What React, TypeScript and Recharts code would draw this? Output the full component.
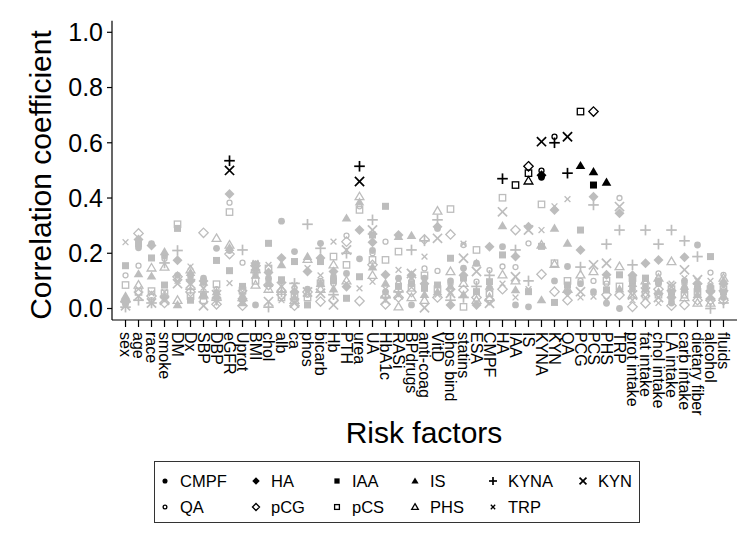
import React from 'react';
import { ScatterChart, Scatter, XAxis, YAxis } from 'recharts';

const categories = [
  'sex', 'age', 'race', 'smoke', 'DM', 'Dx', 'SBP', 'DBP', 'eGFR', 'Uprot', 'BMI', 'chol',
  'alb', 'ca', 'phos', 'bicarb', 'Hb', 'PTH', 'urea', 'UA', 'HbA1c', 'RASi', 'BPdrugs',
  'anti-coag', 'VitD', 'phos bind', 'statins', 'ESA', 'CMPF', 'HA', 'IAA', 'IS', 'KYNA',
  'KYN', 'QA', 'PCG', 'PCS', 'PHS', 'TRP', 'prot intake', 'fat intake', 'chol intake',
  'LA intake', 'carb intake', 'dietary fiber', 'alcohol', 'fluids',
];

const yTicks = [0, 0.2, 0.4, 0.6, 0.8, 1.0];

const CMPF = [0.015, 0.22, 0.235, 0.19, 0.12, 0.12, 0.11, 0.218, 0.21, 0.04, 0.013, 0.11, 0.316, 0.206, 0.07, 0.236, 0.115, 0.127, 0.18, 0.21, 0.06, 0.11, 0.013, 0.11, 0.29, 0.1, 0.146, 0.164, null, 0.224, 0.013, 0.006, 0.475, 0.1, 0.152, 0.09, 0.061, 0.019, 0.0, 0.07, 0.08, 0.09, 0.02, 0.1, 0.23, 0.08, 0.04];
const HA = [0.03, 0.25, 0.228, 0.04, 0.175, 0.1, 0.1, 0.04, 0.415, 0.03, 0.14, 0.13, 0.183, 0.06, 0.134, 0.183, 0.134, 0.079, 0.284, 0.24, 0.122, 0.266, 0.12, 0.09, 0.296, 0.013, 0.12, 0.013, 0.224, null, 0.188, 0.296, 0.482, 0.357, 0.06, 0.212, 0.405, 0.122, 0.345, 0.12, 0.164, 0.176, 0.04, 0.186, 0.09, 0.061, 0.09];
const IAA = [0.155, 0.235, 0.183, 0.085, 0.29, 0.03, 0.045, 0.174, 0.137, 0.08, 0.16, 0.236, 0.104, 0.17, 0.013, 0.17, 0.1, 0.037, 0.115, 0.266, 0.37, 0.08, 0.09, 0.073, 0.085, 0.182, 0.11, 0.061, 0.097, 0.194, null, 0.061, 0.225, 0.022, 0.085, 0.284, 0.447, 0.067, 0.122, 0.1, 0.11, 0.1, 0.06, 0.067, 0.07, 0.188, 0.06];
const IS = [0.045, 0.125, 0.117, 0.205, 0.013, 0.13, 0.095, 0.06, 0.22, 0.02, 0.12, 0.09, 0.158, 0.04, 0.188, 0.09, 0.07, 0.327, 0.385, 0.15, 0.091, 0.26, 0.264, 0.05, 0.06, 0.08, 0.05, 0.164, 0.08, 0.299, 0.067, null, 0.031, 0.29, 0.236, 0.517, 0.495, 0.457, 0.07, 0.09, 0.07, 0.06, 0.05, 0.08, 0.05, 0.04, 0.1];
const KYNA = [0.005, 0.03, 0.02, 0.165, 0.21, 0.07, 0.06, 0.03, 0.535, 0.212, 0.13, 0.005, 0.06, 0.091, 0.305, 0.218, 0.05, 0.2, 0.515, 0.321, 0.04, 0.06, 0.212, 0.245, 0.321, 0.03, 0.04, 0.08, 0.12, 0.47, 0.212, 0.1, null, 0.6, 0.49, 0.15, 0.375, 0.233, 0.284, 0.158, 0.284, 0.233, 0.284, 0.245, 0.188, 0.0, 0.02];
const KYN = [0.01, 0.045, 0.02, 0.03, 0.09, 0.09, 0.01, 0.05, 0.5, 0.05, 0.15, 0.025, 0.08, 0.02, 0.06, 0.055, 0.013, 0.212, 0.46, 0.284, 0.03, 0.05, 0.127, 0.003, 0.254, 0.055, 0.182, 0.134, 0.019, 0.35, 0.115, 0.284, 0.604, null, 0.622, 0.061, 0.158, 0.164, 0.369, 0.049, 0.06, 0.04, 0.079, 0.14, 0.104, 0.05, 0.05];
const QA = [0.12, 0.155, 0.03, 0.18, 0.105, 0.11, 0.085, 0.07, 0.383, 0.166, 0.125, 0.1, 0.1, 0.075, 0.05, 0.1, 0.09, 0.264, 0.37, 0.2, 0.242, 0.09, 0.1, 0.145, 0.136, 0.09, 0.23, 0.097, 0.139, 0.152, 0.15, 0.236, 0.499, 0.622, null, 0.1, 0.1, 0.09, 0.4, 0.08, 0.09, 0.127, 0.03, 0.09, 0.08, 0.13, 0.122];
const pCG = [0.025, 0.272, 0.045, 0.02, 0.115, 0.06, 0.274, 0.015, 0.197, 0.01, 0.155, 0.085, 0.05, 0.01, 0.06, 0.025, 0.03, 0.242, 0.027, 0.158, 0.015, 0.04, 0.06, 0.25, 0.04, 0.268, 0.067, 0.04, 0.03, 0.07, 0.284, 0.515, 0.124, 0.061, 0.03, null, 0.713, 0.05, 0.049, 0.006, 0.019, 0.07, 0.01, 0.013, 0.03, 0.03, 0.03];
const pCS = [0.085, 0.06, 0.063, 0.055, 0.305, 0.045, 0.03, 0.088, 0.349, 0.065, 0.1, 0.145, 0.04, 0.05, 0.04, 0.091, 0.188, 0.158, 0.357, 0.176, 0.176, 0.206, 0.075, 0.12, 0.07, 0.36, 0.006, 0.212, 0.055, 0.401, 0.447, 0.49, 0.377, 0.164, 0.1, 0.713, null, 0.1, 0.08, 0.11, 0.05, 0.05, 0.07, 0.05, 0.06, 0.07, 0.07];
const PHS = [0.035, 0.085, 0.147, 0.15, 0.03, 0.14, 0.05, 0.254, 0.23, 0.04, 0.085, 0.07, 0.07, 0.03, 0.178, 0.07, 0.158, 0.1, 0.405, 0.12, 0.05, 0.006, 0.04, 0.03, 0.353, 0.134, 0.091, 0.03, 0.04, 0.122, 0.1, 0.462, 0.23, 0.16, 0.07, 0.122, 0.134, null, 0.152, 0.05, 0.1, 0.11, 0.17, 0.04, 0.02, 0.02, 0.11];
const TRP = [0.24, 0.07, 0.055, 0.06, 0.1, 0.152, 0.075, 0.02, 0.092, 0.06, 0.165, 0.158, 0.03, 0.085, 0.146, 0.12, 0.242, 0.091, 0.073, 0.097, 0.07, 0.14, 0.11, 0.188, 0.05, 0.06, 0.235, 0.02, 0.07, 0.09, 0.04, 0.07, 0.284, 0.37, 0.396, 0.04, 0.043, 0.03, null, 0.03, 0.04, 0.02, 0.09, 0.11, 0.1, 0.1, 0.08];

const HIGHLIGHT = 0.43;
const GREY = '#bdbdbd';
const FONT = '"Liberation Sans", Arial, Helvetica, sans-serif';

type Sym = 'circle' | 'diamond' | 'square' | 'triangle' | 'plus' | 'bigx' | 'ocircle' | 'odiamond' | 'osquare' | 'otriangle' | 'smallx';

const series: { name: string; values: (number | null)[]; sym: Sym }[] = [
  { name: 'CMPF', values: CMPF, sym: 'circle' },
  { name: 'HA', values: HA, sym: 'diamond' },
  { name: 'IAA', values: IAA, sym: 'square' },
  { name: 'IS', values: IS, sym: 'triangle' },
  { name: 'KYNA', values: KYNA, sym: 'plus' },
  { name: 'KYN', values: KYN, sym: 'bigx' },
  { name: 'QA', values: QA, sym: 'ocircle' },
  { name: 'pCG', values: pCG, sym: 'odiamond' },
  { name: 'pCS', values: pCS, sym: 'osquare' },
  { name: 'PHS', values: PHS, sym: 'otriangle' },
  { name: 'TRP', values: TRP, sym: 'smallx' },
];

function Marker({ sym, cx, cy, color, s = 1 }: { sym: Sym; cx: number; cy: number; color: string; s?: number }) {
  const sw = 1.3;
  switch (sym) {
    case 'circle':
      return <circle cx={cx} cy={cy} r={3.4 * s} fill={color} />;
    case 'diamond': {
      const h = 5 * s;
      return <polygon points={`${cx},${cy - h} ${cx + h},${cy} ${cx},${cy + h} ${cx - h},${cy}`} fill={color} />;
    }
    case 'square': {
      const h = 3.5 * s;
      return <rect x={cx - h} y={cy - h} width={2 * h} height={2 * h} fill={color} />;
    }
    case 'triangle': {
      const h = 4.8 * s;
      return <polygon points={`${cx},${cy - h} ${cx + h},${cy + h * 0.7} ${cx - h},${cy + h * 0.7}`} fill={color} />;
    }
    case 'plus': {
      const h = 5.3 * s;
      return (
        <g stroke={color} strokeWidth={1.7}>
          <line x1={cx - h} y1={cy} x2={cx + h} y2={cy} />
          <line x1={cx} y1={cy - h} x2={cx} y2={cy + h} />
        </g>
      );
    }
    case 'bigx': {
      const h = 4.6 * s;
      return (
        <g stroke={color} strokeWidth={1.7}>
          <line x1={cx - h} y1={cy - h} x2={cx + h} y2={cy + h} />
          <line x1={cx - h} y1={cy + h} x2={cx + h} y2={cy - h} />
        </g>
      );
    }
    case 'ocircle':
      return <circle cx={cx} cy={cy} r={2.5 * s} fill="none" stroke={color} strokeWidth={sw} />;
    case 'odiamond': {
      const h = 4.7 * s;
      return <polygon points={`${cx},${cy - h} ${cx + h},${cy} ${cx},${cy + h} ${cx - h},${cy}`} fill="none" stroke={color} strokeWidth={sw} />;
    }
    case 'osquare': {
      const h = 3.2 * s;
      return <rect x={cx - h} y={cy - h} width={2 * h} height={2 * h} fill="none" stroke={color} strokeWidth={sw} />;
    }
    case 'otriangle': {
      const h = 4.4 * s;
      return <polygon points={`${cx},${cy - h} ${cx + h},${cy + h * 0.7} ${cx - h},${cy + h * 0.7}`} fill="none" stroke={color} strokeWidth={sw} />;
    }
    case 'smallx': {
      const h = 2.9 * s;
      return (
        <g stroke={color} strokeWidth={1.3}>
          <line x1={cx - h} y1={cy - h} x2={cx + h} y2={cy + h} />
          <line x1={cx - h} y1={cy + h} x2={cx + h} y2={cy - h} />
        </g>
      );
    }
  }
  return null;
}

const toPoints = (values: (number | null)[], hi: boolean) =>
  values
    .map((v, i) => (v == null ? null : { x: i, y: v }))
    .filter((p): p is { x: number; y: number } => p != null && (p.y >= HIGHLIGHT) === hi);

const XTick = (props: any) => {
  const { x, y, payload } = props;
  return (
    <text
      transform={`translate(${x},${y}) rotate(90)`}
      textAnchor="start"
      dominantBaseline="central"
      fontSize={16}
      fontFamily={FONT}
      fill="#000"
    >
      {categories[payload.value]}
    </text>
  );
};

const legendRows: { name: string; sym: Sym }[][] = [
  [
    { name: 'CMPF', sym: 'circle' },
    { name: 'HA', sym: 'diamond' },
    { name: 'IAA', sym: 'square' },
    { name: 'IS', sym: 'triangle' },
    { name: 'KYNA', sym: 'plus' },
    { name: 'KYN', sym: 'bigx' },
  ],
  [
    { name: 'QA', sym: 'ocircle' },
    { name: 'pCG', sym: 'odiamond' },
    { name: 'pCS', sym: 'osquare' },
    { name: 'PHS', sym: 'otriangle' },
    { name: 'TRP', sym: 'smallx' },
  ],
];
const legendColX = [11, 102, 183, 261, 339, 429];
const legendRowY = [20, 46];

export default function App() {
  const W = 740;
  const H = 534;
  return (
    <div style={{ position: 'relative', width: W, height: H }}>
      <ScatterChart width={W} height={H} margin={{ top: 12.8, right: 11, bottom: 0, left: 0 }}>
        <XAxis
          type="number"
          dataKey="x"
          domain={[-1.04, 47.04]}
          ticks={categories.map((_, i) => i)}
          interval={0}
          tick={<XTick />}
          tickSize={7}
          tickMargin={5}
          height={222}
          axisLine={{ stroke: '#000', strokeWidth: 1.2 }}
          tickLine={{ stroke: '#000', strokeWidth: 1.2 }}
        />
        <YAxis
          type="number"
          dataKey="y"
          domain={[-0.0416, 1.0416]}
          ticks={yTicks}
          tickFormatter={(v: number) => v.toFixed(1)}
          width={104}
          tickSize={5}
          tickMargin={4}
          tick={{ fontSize: 25, fill: '#000', fontFamily: FONT }}
          axisLine={{ stroke: '#000', strokeWidth: 1.2 }}
          tickLine={{ stroke: '#000', strokeWidth: 1.2 }}
        />
        {series.map((s) => (
          <Scatter
            key={'g' + s.name}
            name={s.name}
            data={toPoints(s.values, false)}
            isAnimationActive={false}
            shape={(p: any) => <Marker sym={s.sym} cx={p.cx} cy={p.cy} color={GREY} />}
          />
        ))}
        {series.map((s) => (
          <Scatter
            key={'b' + s.name}
            name={s.name + ' (r high)'}
            data={toPoints(s.values, true)}
            isAnimationActive={false}
            shape={(p: any) => <Marker sym={s.sym} cx={p.cx} cy={p.cy} color="#000" />}
          />
        ))}
      </ScatterChart>
      <svg width={W} height={H} style={{ position: 'absolute', left: 0, top: 0, pointerEvents: 'none' }}>
        <text
          transform="translate(43,167) rotate(-90)"
          textAnchor="middle"
          fontSize={30}
          fontFamily={FONT}
          fill="#000"
        >
          Correlation coefficient
        </text>
        <text x={416} y={435} textAnchor="middle" fontSize={30} fontFamily={FONT} fill="#000">
          Risk factors
        </text>
        <g transform="translate(146,453)">
          <rect x={0.5} y={0.5} width={485} height={61} fill="#fff" stroke="#333" strokeWidth={1} />
          {legendRows.map((row, r) =>
            row.map((item, c) => (
              <g key={item.name}>
                <Marker sym={item.sym} cx={legendColX[c]} cy={legendRowY[r]} color="#000" s={0.75} />
                <text
                  x={legendColX[c] + 15}
                  y={legendRowY[r]}
                  dominantBaseline="central"
                  fontSize={16.5}
                  fontFamily={FONT}
                  fill="#000"
                >
                  {item.name}
                </text>
              </g>
            ))
          )}
        </g>
      </svg>
    </div>
  );
}
